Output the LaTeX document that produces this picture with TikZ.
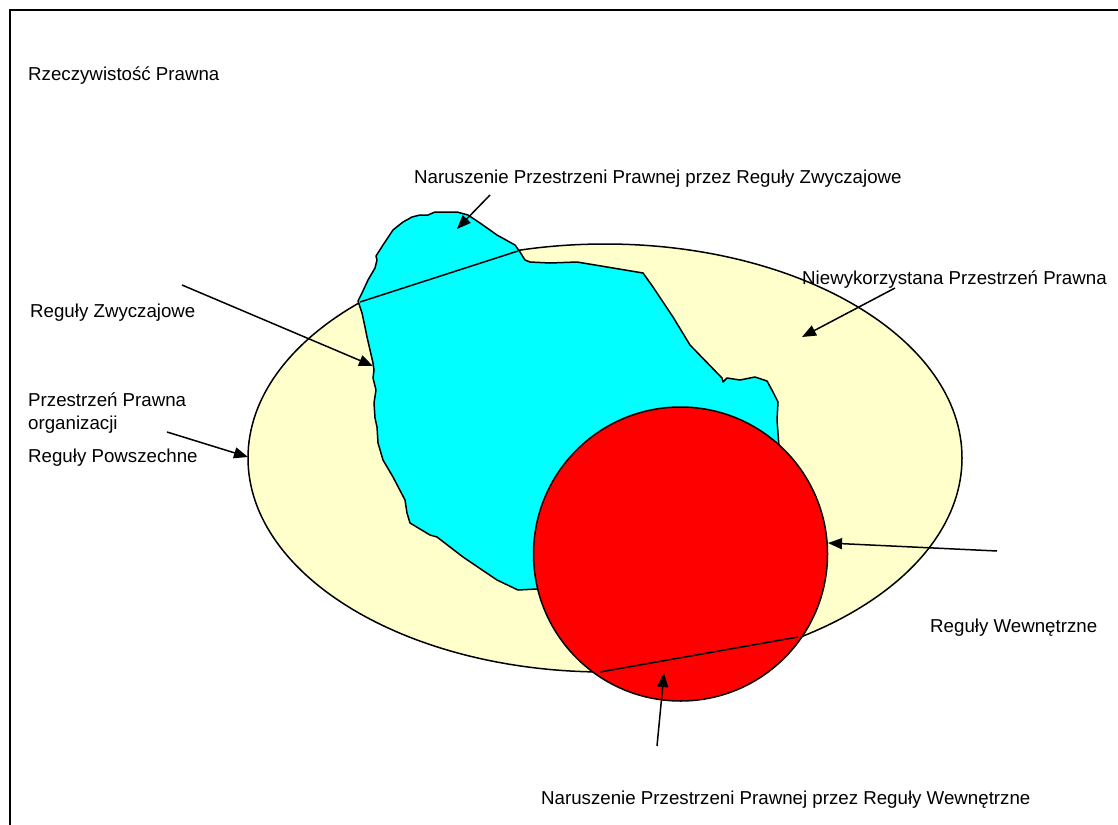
\documentclass[tikz,border=0pt]{standalone}
\usepackage{fontspec}
\setmainfont{Liberation Sans}
\usetikzlibrary{arrows.meta}
\definecolor{legalspace}{HTML}{FFFFCC}
\definecolor{customrules}{HTML}{00FFFF}
\definecolor{internalrules}{HTML}{FF0000}

\begin{document}
\begin{tikzpicture}[x=1pt,y=-1pt,
    txt/.style={anchor=west,inner sep=0pt,font=\fontsize{18.7}{23}\selectfont},
    ptr/.style={-{Triangle[length=14pt,width=11pt]},line width=1.5pt},
    outline/.style={draw=black,line width=1.5pt,line join=round}]
    \useasboundingbox (0,0) rectangle (1118,824);
    \clip (0,0) rectangle (1118,824);
    \draw[line width=2pt] (9.5,10.5) rectangle (1140,850);
    \draw[outline,fill=legalspace] (605,458) ellipse (357 and 214);
    \draw[outline,fill=customrules] (358,301) -- (362,293) -- (368,280) -- (375,268) -- (377,260)
        -- (376,256) -- (383,245) -- (393,230) -- (403,222) -- (412,217) -- (420,215) -- (428,215)
        -- (435,212) -- (457,212) -- (468,215) -- (480,223) -- (497,235) -- (515,245) -- (520,252)
        -- (525,260) -- (530,262) -- (550,263) -- (577,262) -- (643,273) -- (653,287) -- (663,302)
        -- (673,317) -- (690,345) -- (722,378) -- (723,382) -- (727,378) -- (740,380) -- (755,377)
        -- (767,381) -- (773,392) -- (778,402) -- (777,420) -- (779,447) -- (700,560) -- (537,589)
        -- (518,590) -- (497,580) -- (463,557) -- (437,537) -- (430,535) -- (410,523) -- (407,513)
        -- (405,500) -- (393,477) -- (383,460) -- (378,443) -- (377,427) -- (375,418) -- (374,403)
        -- (376,390) -- (373,378) -- (374,370) -- (373,363) -- (370,350) -- (367,337) -- (365,327)
        -- (362,313) -- cycle;
    \coordinate (legal-w) at (360,302);
    \coordinate (legal-e) at (518,251);
    \draw[outline] (legal-w) -- (legal-e);
    \draw[outline,fill=internalrules] (680.5,554) circle (147);
    \coordinate (legal-sw) at (600,672);
    \coordinate (legal-se) at (798,637);
    \draw[outline] (legal-sw) -- (legal-se);
    \node[txt] (reality) at (28,76) {Rzeczywistość Prawna};
    \node[txt] (breachcustom) at (414,179) {Naruszenie Przestrzeni Prawnej przez Reguły Zwyczajowe};
    \node[txt] (custom) at (30,313) {Reguły Zwyczajowe};
    \node[txt,align=left] (space) at (28,413) {Przestrzeń Prawna\\organizacji};
    \node[txt] (general) at (28,458) {Reguły Powszechne};
    \node[txt] (unused) at (802,280) {Niewykorzystana Przestrzeń Prawna};
    \node[txt] (internal) at (930,628) {Reguły Wewnętrzne};
    \node[txt] (breachinternal) at (541,800) {Naruszenie Przestrzeni Prawnej przez Reguły Wewnętrzne};
    \coordinate (bc-from) at (490,195);  \coordinate (bc-to) at (457,229);
    \coordinate (cu-from) at (182,285);  \coordinate (cu-to) at (373,366);
    \coordinate (ge-from) at (167,432);  \coordinate (ge-to) at (248,457);
    \coordinate (un-from) at (895,288);  \coordinate (un-to) at (802,337);
    \coordinate (in-from) at (997,551);  \coordinate (in-to) at (828,543);
    \coordinate (bi-from) at (657,746);  \coordinate (bi-to) at (664,673);
    \draw[ptr] (bc-from) -- (bc-to);
    \draw[ptr] (cu-from) -- (cu-to);
    \draw[ptr] (ge-from) -- (ge-to);
    \draw[ptr] (un-from) -- (un-to);
    \draw[ptr] (in-from) -- (in-to);
    \draw[ptr] (bi-from) -- (bi-to);
\end{tikzpicture}
\end{document}
